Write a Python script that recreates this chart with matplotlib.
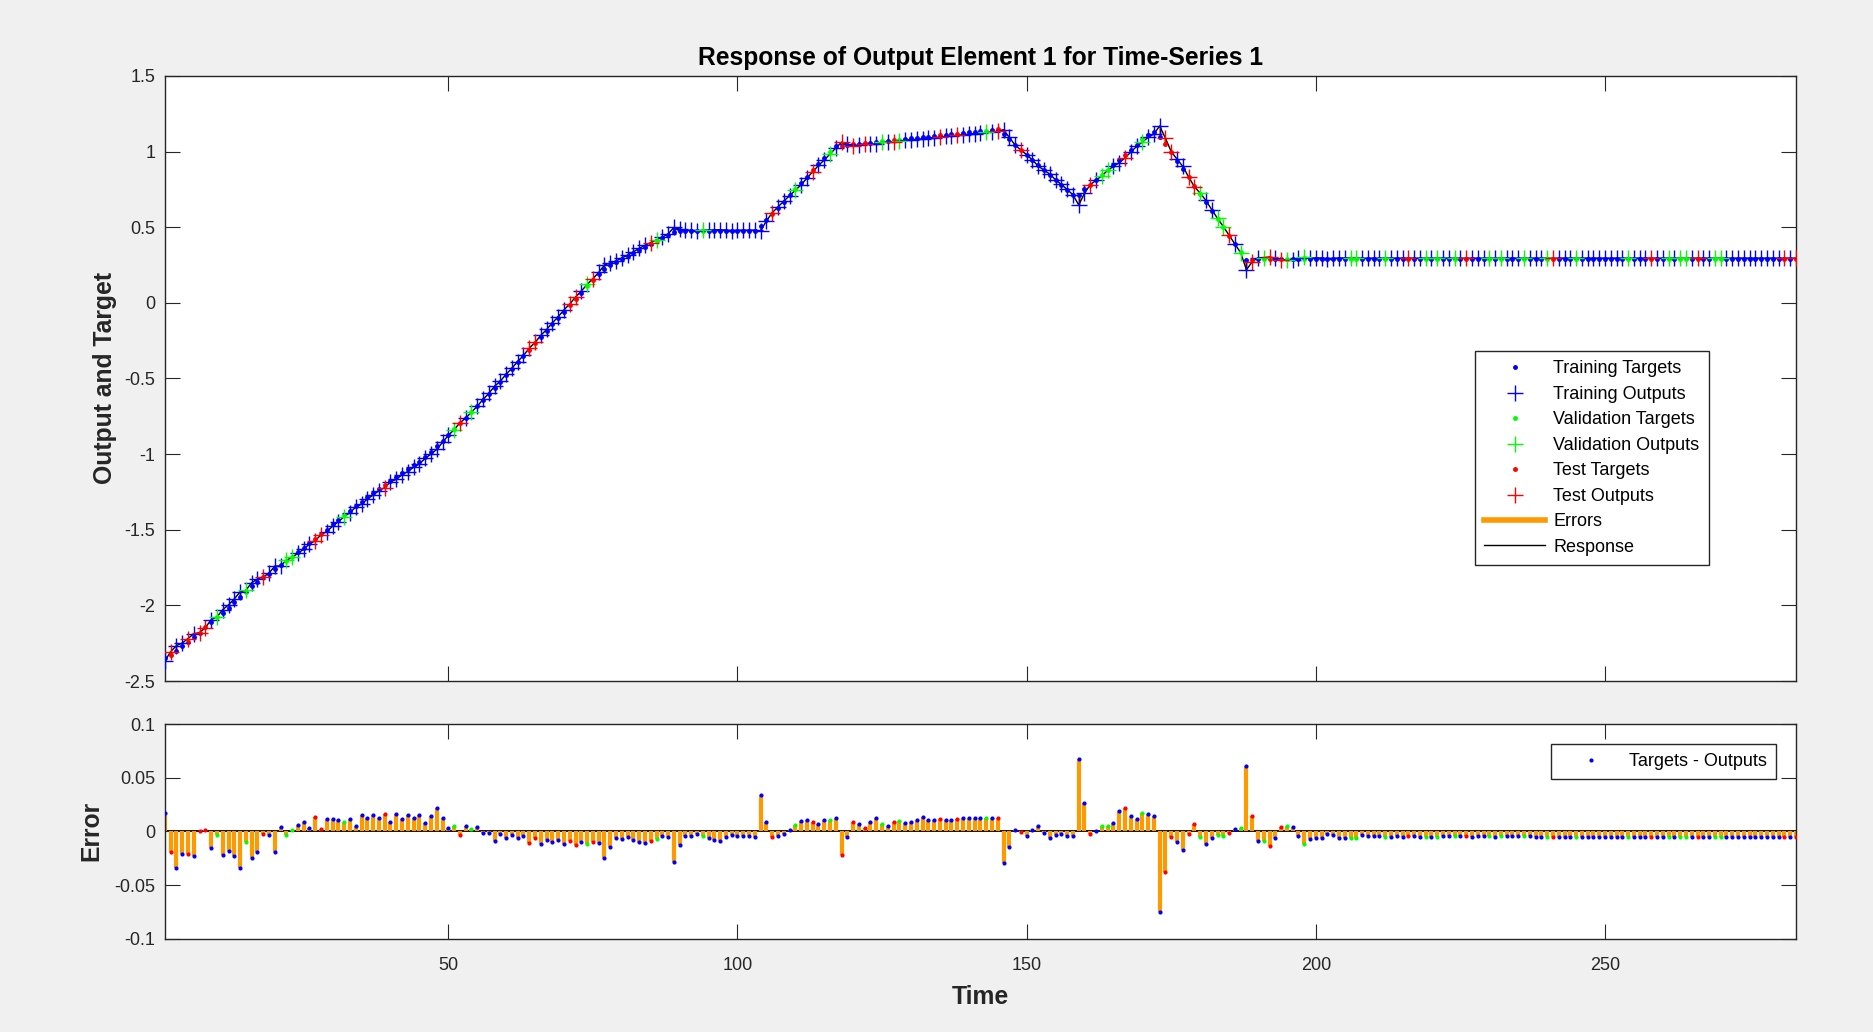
import matplotlib.pyplot as plt
from matplotlib.lines import Line2D
import numpy as np

plt.rcParams['font.family'] = ['Liberation Sans', 'DejaVu Sans']
plt.rcParams['axes.unicode_minus'] = False

# network targets for each time step
targets = [
    -2.35, -2.325, -2.30, -2.27, -2.24, -2.21, -2.18, -2.145, -2.11, -2.08,
    -2.05, -2.015, -1.98, -1.945, -1.91, -1.875, -1.845, -1.815, -1.79, -1.76,
    -1.735, -1.705, -1.68, -1.65, -1.62, -1.59, -1.56, -1.53, -1.50, -1.465,
    -1.435, -1.405, -1.375, -1.345, -1.315, -1.285, -1.255, -1.23, -1.205, -1.175,
    -1.15, -1.125, -1.10, -1.075, -1.05, -1.02, -0.985, -0.948, -0.91, -0.872,
    -0.834, -0.796, -0.758, -0.72, -0.68, -0.64, -0.60, -0.56, -0.52, -0.478,
    -0.436, -0.394, -0.352, -0.31, -0.268, -0.226, -0.184, -0.142, -0.10, -0.058,
    -0.016, 0.026, 0.068, 0.11, 0.15, 0.19, 0.225, 0.25, 0.27, 0.29,
    0.31, 0.33, 0.35, 0.37, 0.39, 0.41, 0.43, 0.45, 0.47, 0.475,
    0.475, 0.475, 0.475, 0.475, 0.475, 0.475, 0.475, 0.475, 0.475, 0.475,
    0.475, 0.475, 0.475, 0.51, 0.55, 0.59, 0.63, 0.67, 0.71, 0.75,
    0.79, 0.835, 0.875, 0.915, 0.955, 0.995, 1.035, 1.040, 1.043, 1.047,
    1.051, 1.055, 1.059, 1.063, 1.067, 1.071, 1.075, 1.079, 1.083, 1.087,
    1.091, 1.095, 1.099, 1.103, 1.107, 1.111, 1.115, 1.119, 1.123, 1.127,
    1.131, 1.135, 1.139, 1.143, 1.147, 1.115, 1.08, 1.045, 1.01, 0.975,
    0.945, 0.91, 0.875, 0.845, 0.81, 0.78, 0.745, 0.71, 0.715, 0.75,
    0.78, 0.81, 0.845, 0.88, 0.91, 0.945, 0.98, 1.01, 1.045, 1.08,
    1.11, 1.13, 1.095, 1.05, 0.995, 0.94, 0.885, 0.83, 0.775, 0.72,
    0.665, 0.61, 0.555, 0.50, 0.445, 0.39, 0.335, 0.28, 0.285, 0.29,
    0.29, 0.29, 0.29, 0.29, 0.29, 0.29, 0.29, 0.29, 0.29, 0.29,
    0.29, 0.29, 0.29, 0.29, 0.29, 0.29, 0.29, 0.29, 0.29, 0.29,
    0.29, 0.29, 0.29, 0.29, 0.29, 0.29, 0.29, 0.29, 0.29, 0.29,
    0.29, 0.29, 0.29, 0.29, 0.29, 0.29, 0.29, 0.29, 0.29, 0.29,
    0.29, 0.29, 0.29, 0.29, 0.29, 0.29, 0.29, 0.29, 0.29, 0.29,
    0.29, 0.29, 0.29, 0.29, 0.29, 0.29, 0.29, 0.29, 0.29, 0.29,
    0.29, 0.29, 0.29, 0.29, 0.29, 0.29, 0.29, 0.29, 0.29, 0.29,
    0.29, 0.29, 0.29, 0.29, 0.29, 0.29, 0.29, 0.29, 0.29, 0.29,
    0.29, 0.29, 0.29, 0.29, 0.29, 0.29, 0.29, 0.29, 0.29, 0.29,
    0.29, 0.29, 0.29,
]

# targets - outputs
errors = [
    0.017, -0.019, -0.0345, -0.021, -0.021, -0.023, 0.0003, 0.0016, -0.0154, -0.0038,
    -0.022, -0.018, -0.023, -0.0345, -0.010, -0.025, -0.019, -0.0025, -0.0035, -0.019,
    0.004, -0.003, 0.0016, 0.0057, 0.0088, 0.0035, 0.0135, 0.002, 0.0116, 0.0113,
    0.0107, 0.0085, 0.0116, 0.005, 0.0157, 0.0126, 0.0154, 0.0122, 0.016, 0.0085,
    0.0166, 0.0113, 0.015, 0.012, 0.0148, 0.0082, 0.0144, 0.0214, 0.0129, 0.0035,
    0.0047, -0.0035, 0.0047, 0.002, 0.0038, -0.0013, -0.0013, -0.009, -0.0025, -0.0066,
    -0.0038, -0.006, -0.0044, -0.0107, -0.0066, -0.0113, -0.0079, -0.010, -0.0082, -0.0116,
    -0.0088, -0.0126, -0.010, -0.0116, -0.0097, -0.011, -0.0251, -0.0144, -0.0066, -0.0072,
    -0.0053, -0.0079, -0.0097, -0.0104, -0.0088, -0.0069, -0.0044, -0.0053, -0.0283, -0.0129,
    -0.0041, -0.0041, -0.0028, -0.0044, -0.0066, -0.0082, -0.0085, -0.0057, -0.0031, -0.0047,
    -0.0047, -0.0044, -0.0053, 0.0336, 0.0088, -0.0057, -0.0041, -0.0022, 0.0013, 0.0057,
    0.010, 0.011, 0.0085, 0.0069, 0.0104, 0.011, 0.012, -0.0223, -0.0053, 0.0088,
    0.0066, 0.0035, 0.0091, 0.0126, 0.0069, 0.005, 0.0091, 0.010, 0.0075, 0.0088,
    0.011, 0.0132, 0.0104, 0.0104, 0.0116, 0.011, 0.0104, 0.0116, 0.0122, 0.012,
    0.012, 0.0129, 0.0126, 0.0126, 0.0126, -0.0298, -0.0144, 0.0016, -0.0003, -0.0047,
    0.0013, 0.0053, -0.0019, -0.0063, -0.0035, -0.0028, -0.0047, -0.0044, 0.0678, 0.0264,
    -0.0022, 0.0003, 0.0047, 0.0047, 0.0079, 0.0188, 0.0217, 0.0141, 0.0113, 0.0173,
    0.016, 0.0141, -0.0747, -0.0377, -0.005, -0.010, -0.017, -0.0025, 0.0066, -0.0053,
    -0.0119, -0.0063, -0.0035, -0.0044, -0.0016, 0.0019, 0.0028, 0.0612, 0.0141, -0.0088,
    -0.0094, -0.0132, -0.0063, 0.0044, 0.0047, 0.0041, -0.0041, -0.0113, -0.0072, -0.006,
    -0.0066, -0.0022, -0.0038, -0.0063, -0.0063, -0.0063, -0.0063, -0.0038, -0.0044, -0.0044,
    -0.0044, -0.0053, -0.0053, -0.0044, -0.0053, -0.0047, -0.0047, -0.005, -0.005, -0.005,
    -0.0053, -0.0047, -0.0047, -0.0047, -0.0047, -0.0047, -0.005, -0.0047, -0.0047, -0.0047,
    -0.005, -0.0047, -0.0047, -0.0047, -0.0047, -0.0047, -0.0047, -0.005, -0.005, -0.005,
    -0.005, -0.005, -0.005, -0.005, -0.005, -0.005, -0.005, -0.005, -0.005, -0.005,
    -0.005, -0.005, -0.005, -0.005, -0.005, -0.005, -0.005, -0.005, -0.005, -0.005,
    -0.005, -0.005, -0.005, -0.005, -0.005, -0.005, -0.005, -0.005, -0.005, -0.005,
    -0.005, -0.005, -0.005, -0.005, -0.005, -0.005, -0.005, -0.005, -0.005, -0.005,
    -0.005, -0.005, -0.005,
]

# T = training, V = validation, S = test
split = (
    "TSTTSTSSTV" "TTTTVTTSTT" "TVVTTTSSTT" "TVTTTTTTST" "TTTTTTTTTT"
    "VSTVTTTTTT" "TTTSSTTTTT" "SSTVSTTTTT" "TTTTSVTTTT" "TTTVTTTTTT"
    "TTTTTSTTTV" "TTSTTVTSTS" "TSTTVTSVTT" "TTTTSTTSTT" "TTVTSTTTST"
    "TTTTTTTTTT" "STVVTTSTTV" "TTTSSTTSSV" "TTVVSTVTST" "VSTSVTTVTT"
    "TTTTTVVTTT" "TVTTTSTTVT" "VTTVTSTTTV" "TVTTTVTTTV" "STTTVTTTTT"
    "TTTVTTTSTT" "VTVVTSTTVV" "TTTTTTTTTT" "STS"
)

groups = [('T', '#0000ff', 'Training'),
          ('V', '#00ff00', 'Validation'),
          ('S', '#ff0000', 'Test')]

orange = '#ff9900'
dark = '#262626'

t = np.arange(1, len(targets) + 1)
tg = np.array(targets)
er = np.array(errors)
outputs = tg - er
codes = np.array(list(split))

fig = plt.figure(figsize=(18.74, 10.32), dpi=100, facecolor='#f0f0f0')
ax1 = fig.add_axes([0.0880, 0.3401, 0.8703, 0.5863])
ax2 = fig.add_axes([0.0880, 0.0904, 0.8703, 0.2080])

# response panel
ax1.vlines(t, tg, outputs, colors=orange, lw=2, zorder=1)
ax1.plot(t, outputs, color='k', lw=1, zorder=2)
handles = []
for code, col, name in groups:
    m = codes == code
    h1, = ax1.plot(t[m], tg[m], '.', color=col, ms=5, ls='none',
                   label=name + ' Targets', zorder=3)
    h2, = ax1.plot(t[m], outputs[m], '+', color=col, ms=11, mew=1, ls='none',
                   label=name + ' Outputs', zorder=4)
    handles += [h1, h2]
handles.append(Line2D([], [], color=orange, lw=4, label='Errors'))
handles.append(Line2D([], [], color='k', lw=1, label='Response'))

# error panel
ax2.axhline(0, color='k', lw=1.3, zorder=1)
ax2.vlines(t, 0, er, colors=orange, lw=3, zorder=2)
for code, col, name in groups:
    m = codes == code
    ax2.plot(t[m], er[m], 'o', color=col, ms=3, mew=0, ls='none', zorder=3)

for ax in (ax1, ax2):
    ax.set_facecolor('white')
    ax.set_xlim(1, len(targets))
    ax.set_xticks([50, 100, 150, 200, 250])
    ax.tick_params(direction='in', length=11, width=0.8, color=dark,
                   labelcolor=dark, labelsize=13, top=True, right=True)
    ax.tick_params(axis='y', pad=7)
    ax.tick_params(axis='x', pad=13.5)
    for s in ax.spines.values():
        s.set_color(dark)
        s.set_linewidth(1)

ax1.set_ylim(-2.5, 1.5)
yt1 = [-2.5, -2, -1.5, -1, -0.5, 0, 0.5, 1, 1.5]
ax1.set_yticks(yt1)
ax1.set_yticklabels(['%g' % v for v in yt1])
ax1.tick_params(labelbottom=False)

ax2.set_ylim(-0.1, 0.1)
yt2 = [-0.1, -0.05, 0, 0.05, 0.1]
ax2.set_yticks(yt2)
ax2.set_yticklabels(['%g' % v for v in yt2])

ax1.set_title('Response of Output Element 1 for Time-Series 1',
              fontsize=17.7, fontweight='bold', color='k', pad=8)
ax1.set_ylabel('Output and Target', fontsize=17.8, fontweight='bold', color=dark)
ax1.yaxis.set_label_coords(-0.0296, 0.5)
ax2.set_ylabel('Error', fontsize=17.8, fontweight='bold', color=dark)
ax2.yaxis.set_label_coords(-0.0375, 0.5)
ax2.set_xlabel('Time', fontsize=17.8, fontweight='bold', color=dark)
ax2.xaxis.set_label_coords(0.5, -0.215)

leg1 = ax1.legend(handles=handles, loc='lower right', bbox_to_anchor=(0.9465, 0.192),
                  borderaxespad=0, fontsize=13, fancybox=False, framealpha=1,
                  edgecolor=dark, borderpad=0.5, labelspacing=0.47,
                  handlelength=3.4, handletextpad=0.45)
leg1.get_frame().set_linewidth(1)

lh = Line2D([], [], marker='o', color='#0000ff', ms=3, mew=0, ls='none',
            label='Targets - Outputs')
leg2 = ax2.legend(handles=[lh], loc='upper right', bbox_to_anchor=(0.988, 0.907),
                  borderaxespad=0, fontsize=13, fancybox=False, framealpha=1,
                  edgecolor=dark, borderpad=0.5, handlelength=3.4,
                  handletextpad=0.45)
leg2.get_frame().set_linewidth(1)

fig.savefig('out.png', dpi=100, facecolor=fig.get_facecolor())
